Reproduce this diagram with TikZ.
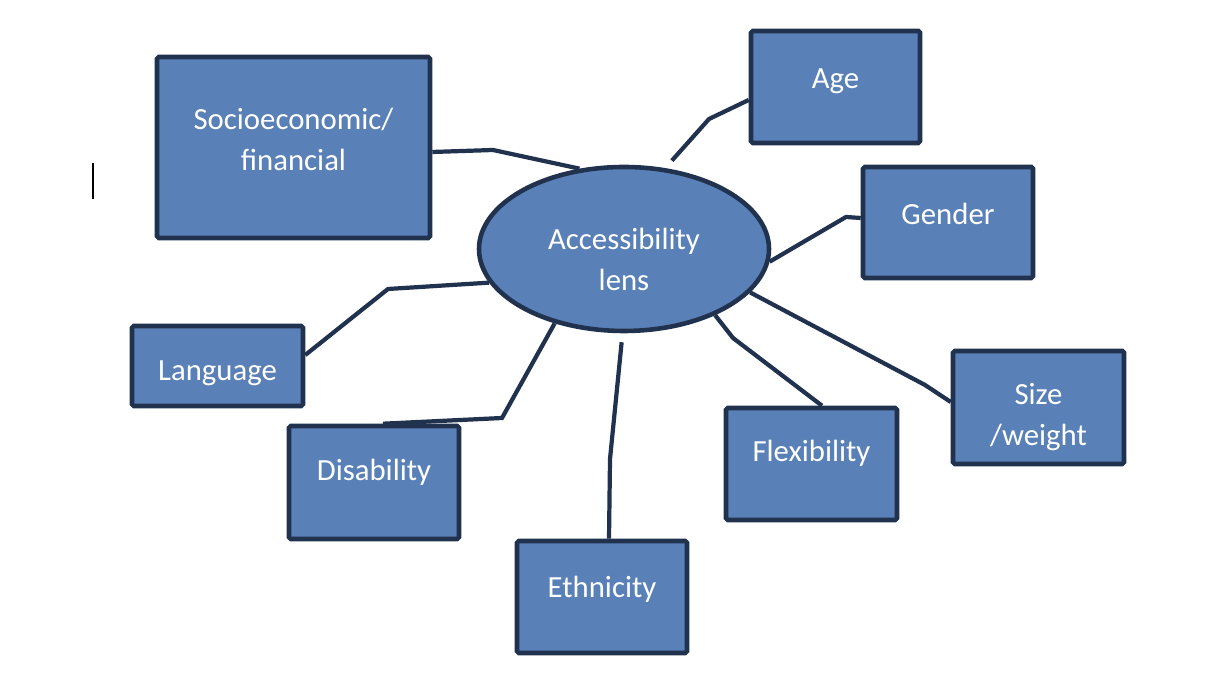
\documentclass[tikz,border=0pt]{standalone}
\usepackage{fontspec}
\setmainfont{Carlito}
\usepackage{tikz}
\usetikzlibrary{shapes.geometric, positioning, calc}
\definecolor{boxfill}{RGB}{89,128,183}
\definecolor{boxline}{RGB}{33,50,79}

\begin{document}
\begin{tikzpicture}[
    box/.style={draw=boxline, fill=boxfill, line width=2.6pt, rounded corners=1pt, inner sep=0pt},
    txt/.style={text=white, align=center, font=\fontsize{17.5}{23.3}\selectfont},
    link/.style={draw=boxline, line width=2.4pt}]
            \useasboundingbox (0,0) rectangle (24.6,13.72);

            \node[ellipse, box, minimum width=5.8cm, minimum height=3.28cm,
                  label={[txt, yshift=-0.21cm]center:Accessibility\\lens}] (lens) at (12.48,8.74) {};

            \node[box, minimum width=5.46cm, minimum height=3.62cm,
                  label={[txt, yshift=0.17cm]center:Socioeconomic/\\financial}] (socio) at (5.87,10.77) {};
            \node[box, minimum width=3.38cm, minimum height=2.24cm,
                  label={[txt, yshift=0.12cm]center:Age}] (age) at (16.71,11.98) {};
            \node[box, minimum width=3.4cm, minimum height=2.22cm,
                  label={[txt, yshift=0.17cm]center:Gender}] (gender) at (18.96,9.27) {};
            \node[box, minimum width=3.42cm, minimum height=1.6cm,
                  label={[txt, yshift=-0.14cm]center:Language}] (lang) at (4.35,6.4) {};
            \node[box, minimum width=3.4cm, minimum height=2.26cm,
                  label={[txt, yshift=0.2cm]center:Disability}] (disab) at (7.48,4.07) {};
            \node[box, minimum width=3.4cm, minimum height=2.24cm,
                  label={[txt, yshift=0.16cm]center:Ethnicity}] (ethn) at (12.04,1.78) {};
            \node[box, minimum width=3.42cm, minimum height=2.24cm,
                  label={[txt, yshift=0.22cm]center:Flexibility}] (flex) at (16.23,4.44) {};
            \node[box, minimum width=3.42cm, minimum height=2.26cm,
                  label={[txt, yshift=-0.19cm]center:Size\\/weight}] (size) at (20.77,5.57) {};

            % connectors
            \draw[link] ([yshift=-0.09cm]socio.east) -- (9.86,10.72) -- (lens.119);
            \draw[link, shorten >=0.2cm] ([yshift=-0.26cm]age.west) -- (14.18,11.34) -- (lens.63);
            \draw[link] (lens.-5) -- (16.92,9.38) -- ([yshift=0.09cm]gender.west);
            \draw[link] (lens.-19) -- (18.5,6.02) -- ([yshift=0.11cm]size.west);
            \draw[link] (lens.-36) -- (14.66,6.96) -- ([xshift=0.21cm]flex.north);
            \draw[link, shorten <=0.18cm] (lens.-91) -- (12.2,4.54) -- ([xshift=0.14cm]ethn.north);
            \draw[link] (lens.-133) -- (10.04,5.36) -- ([xshift=0.18cm]disab.north);
            \draw[link] ([yshift=0.22cm]lang.east) -- (7.76,7.94) -- (lens.194);

            % text cursor
            \draw[black, line width=0.7pt] (1.86,10.46) -- (1.86,9.74);
        \end{tikzpicture}
\end{document}
